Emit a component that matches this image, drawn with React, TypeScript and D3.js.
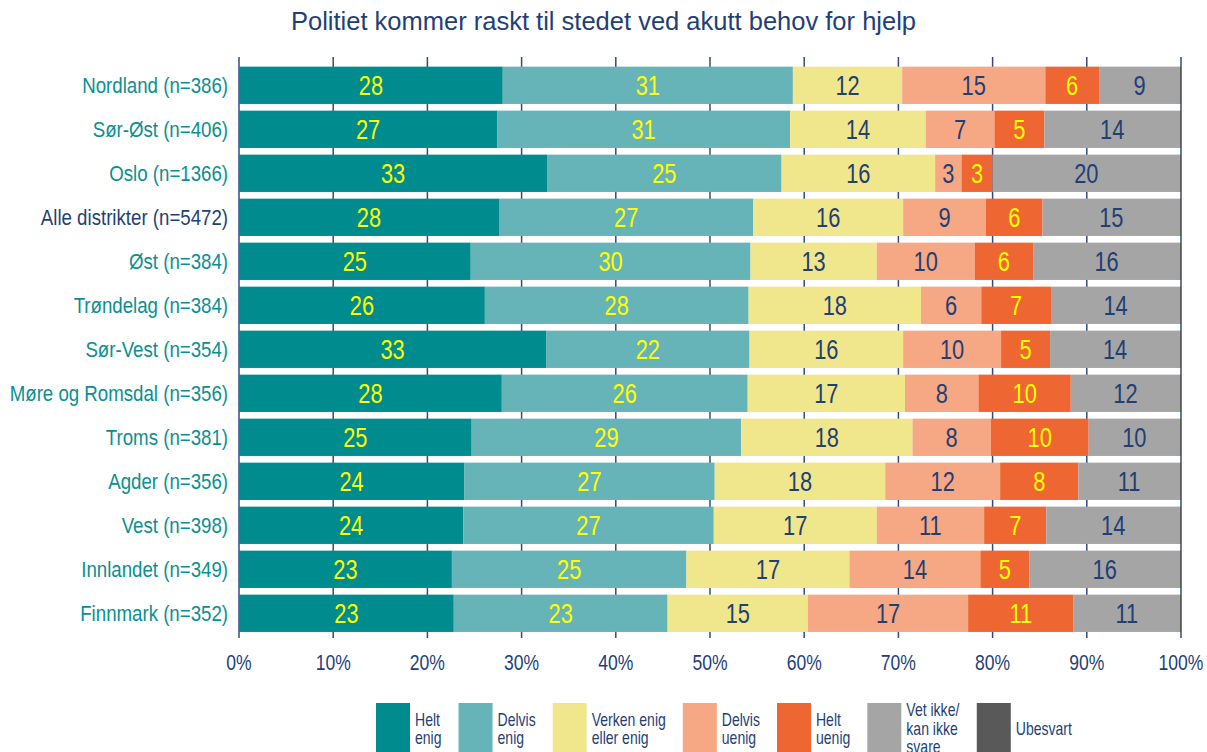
import * as d3 from "d3";
import React, { useEffect, useRef } from "react";

const title = "Politiet kommer raskt til stedet ved akutt behov for hjelp";

const districts = [
  "Nordland (n=386)",
  "Sør-Øst (n=406)",
  "Oslo (n=1366)",
  "Alle distrikter (n=5472)",
  "Øst (n=384)",
  "Trøndelag (n=384)",
  "Sør-Vest (n=354)",
  "Møre og Romsdal (n=356)",
  "Troms (n=381)",
  "Agder (n=356)",
  "Vest (n=398)",
  "Innlandet (n=349)",
  "Finnmark (n=352)",
];

const heltEnig = [28.0, 27.4, 32.7, 27.6, 24.6, 26.1, 32.6, 27.9, 24.7, 23.9, 23.8, 22.6, 22.8];
const delvisEnig = [30.8, 31.1, 24.9, 27.0, 29.7, 28.0, 21.6, 26.1, 28.6, 26.6, 26.6, 24.9, 22.7];
const verkenEnig = [11.6, 14.4, 16.3, 15.9, 13.4, 18.3, 16.3, 16.7, 18.2, 18.1, 17.3, 17.3, 14.9];
const delvisUenig = [15.2, 7.3, 2.8, 8.8, 10.4, 6.4, 10.4, 7.8, 8.3, 12.2, 11.4, 13.9, 17.0];
const heltUenig = [5.7, 5.3, 3.3, 6.0, 6.2, 7.4, 5.2, 9.8, 10.4, 8.3, 6.6, 5.2, 11.2];
const vetIkke = [8.6, 14.4, 19.9, 14.6, 15.6, 13.7, 13.8, 11.6, 9.7, 10.8, 14.2, 16.0, 11.3];
const ubesvart = [0.1, 0.1, 0.1, 0.1, 0.1, 0.1, 0.1, 0.1, 0.1, 0.1, 0.1, 0.1, 0.1];

const seriesKeys = ["heltEnig", "delvisEnig", "verkenEnig", "delvisUenig", "heltUenig", "vetIkke", "ubesvart"];
const seriesValues = [heltEnig, delvisEnig, verkenEnig, delvisUenig, heltUenig, vetIkke, ubesvart];
const legendLabels = [
  ["Helt", "enig"],
  ["Delvis", "enig"],
  ["Verken enig", "eller enig"],
  ["Delvis", "uenig"],
  ["Helt", "uenig"],
  ["Vet ikke/", "kan ikke", "svare"],
  ["Ubesvart"],
];
const seriesColors = ["#008b8f", "#66b4b8", "#f0e68c", "#f6a784", "#ee6632", "#a5a5a5", "#595959"];
const labelColors = ["#ffff00", "#ffff00", "#1f3f77", "#1f3f77", "#ffff00", "#1f3f77", "none"];
const tickValues = [0, 10, 20, 30, 40, 50, 60, 70, 80, 90, 100];

// no narrow font installed, so squeeze Liberation Sans horizontally
const FONT = "'Liberation Sans', Arial, sans-serif";
const navy = "#1f3f77";
const teal = "#0a9090";

const App: React.FC = () => {
  const svgRef = useRef<SVGSVGElement>(null);

  useEffect(() => {
    if (!svgRef.current) return;
    const svg = d3.select(svgRef.current);
    svg.selectAll("*").remove();

    const width = 1207;
    const left = 239;
    const right = 1181;

    const rows = districts.map((d, i) => {
      const row: Record<string, number | string> = { district: d };
      seriesKeys.forEach((k, j) => (row[k] = seriesValues[j][i]));
      return row;
    });

    const stacked = d3.stack<any>().keys(seriesKeys)(rows);

    const x = d3.scaleLinear().domain([0, 100]).range([left, right]);
    const y = d3
      .scaleBand()
      .domain(districts)
      .range([63.3, 635.3])
      .paddingInner(0.152)
      .paddingOuter(0.076);

    const squeeze = (px: number, py: number, sx: number) =>
      `translate(${px},${py}) scale(${sx},1)`;

    // Title
    svg
      .append("text")
      .attr("x", width / 2)
      .attr("y", 30)
      .attr("text-anchor", "middle")
      .attr("fill", navy)
      .style("font-family", FONT)
      .style("font-size", "25.5px")
      .text(title);

    // Gridlines (behind bars)
    svg
      .append("g")
      .selectAll("line")
      .data(tickValues)
      .join("line")
      .attr("x1", (d) => x(d))
      .attr("x2", (d) => x(d))
      .attr("y1", 57)
      .attr("y2", 638)
      .attr("stroke", "#2e4c82")
      .attr("stroke-width", 1.5);

    // Bars
    const layers = svg
      .append("g")
      .selectAll("g")
      .data(stacked)
      .join("g")
      .attr("fill", (_, i) => seriesColors[i]);

    layers
      .selectAll("rect")
      .data((s) => s)
      .join("rect")
      .attr("x", (d) => x(d[0]))
      .attr("y", (d) => y(d.data.district as string)!)
      .attr("width", (d) => x(d[1]) - x(d[0]))
      .attr("height", y.bandwidth());

    // Value labels
    layers
      .filter((_, i) => labelColors[i] !== "none")
      .selectAll("text")
      .data((s) => s.map((d) => ({ d, idx: s.index })).filter(({ d }) => d[1] - d[0] >= 1))
      .join("text")
      .attr("transform", ({ d }) =>
        squeeze((x(d[0]) + x(d[1])) / 2, y(d.data.district as string)! + y.bandwidth() / 2, 0.78),
      )
      .attr("dy", "0.36em")
      .attr("text-anchor", "middle")
      .attr("fill", ({ idx }) => labelColors[idx])
      .style("font-family", FONT)
      .style("font-size", "28px")
      .text(({ d }) => Math.round(d[1] - d[0]));

    // Category labels
    svg
      .append("g")
      .selectAll("text")
      .data(districts)
      .join("text")
      .attr("transform", (d) => squeeze(228, y(d)! + y.bandwidth() / 2, 0.83))
      .attr("dy", "0.36em")
      .attr("text-anchor", "end")
      .attr("fill", (d) => (d.startsWith("Alle") ? navy : teal))
      .style("font-family", FONT)
      .style("font-size", "22.5px")
      .text((d) => d);

    // X tick labels
    svg
      .append("g")
      .selectAll("text")
      .data(tickValues)
      .join("text")
      .attr("transform", (d) => squeeze(x(d), 670, 0.78))
      .attr("text-anchor", "middle")
      .attr("fill", navy)
      .style("font-family", FONT)
      .style("font-size", "22.5px")
      .text((d) => `${d}%`);

    // Legend
    const legend = svg.append("g");
    const sxLeg = 0.78;
    const lineH = 18.5;
    let lx = 376;
    legendLabels.forEach((lines, i) => {
      const item = legend.append("g");
      item
        .append("rect")
        .attr("x", lx)
        .attr("y", 703)
        .attr("width", 34)
        .attr("height", 55)
        .attr("fill", seriesColors[i]);
      const firstBase = 735 - ((lines.length - 1) * lineH) / 2;
      const txt = item
        .append("text")
        .attr("transform", squeeze(lx + 39, 0, sxLeg))
        .attr("fill", navy)
        .style("font-family", FONT)
        .style("font-size", "18px");
      lines.forEach((l, j) => {
        txt
          .append("tspan")
          .attr("x", 0)
          .attr("y", firstBase + j * lineH)
          .text(l);
      });
      const w = (txt.node() as SVGTextElement).getBBox().width * sxLeg;
      lx += 39 + w + 17;
    });
  }, []);

  return (
    <div style={{ position: "absolute", left: 0, top: 0, width: 1207, height: 752, background: "#fff" }}>
      <svg ref={svgRef} width={1207} height={752} style={{ display: "block" }} />
    </div>
  );
};

export default App;
